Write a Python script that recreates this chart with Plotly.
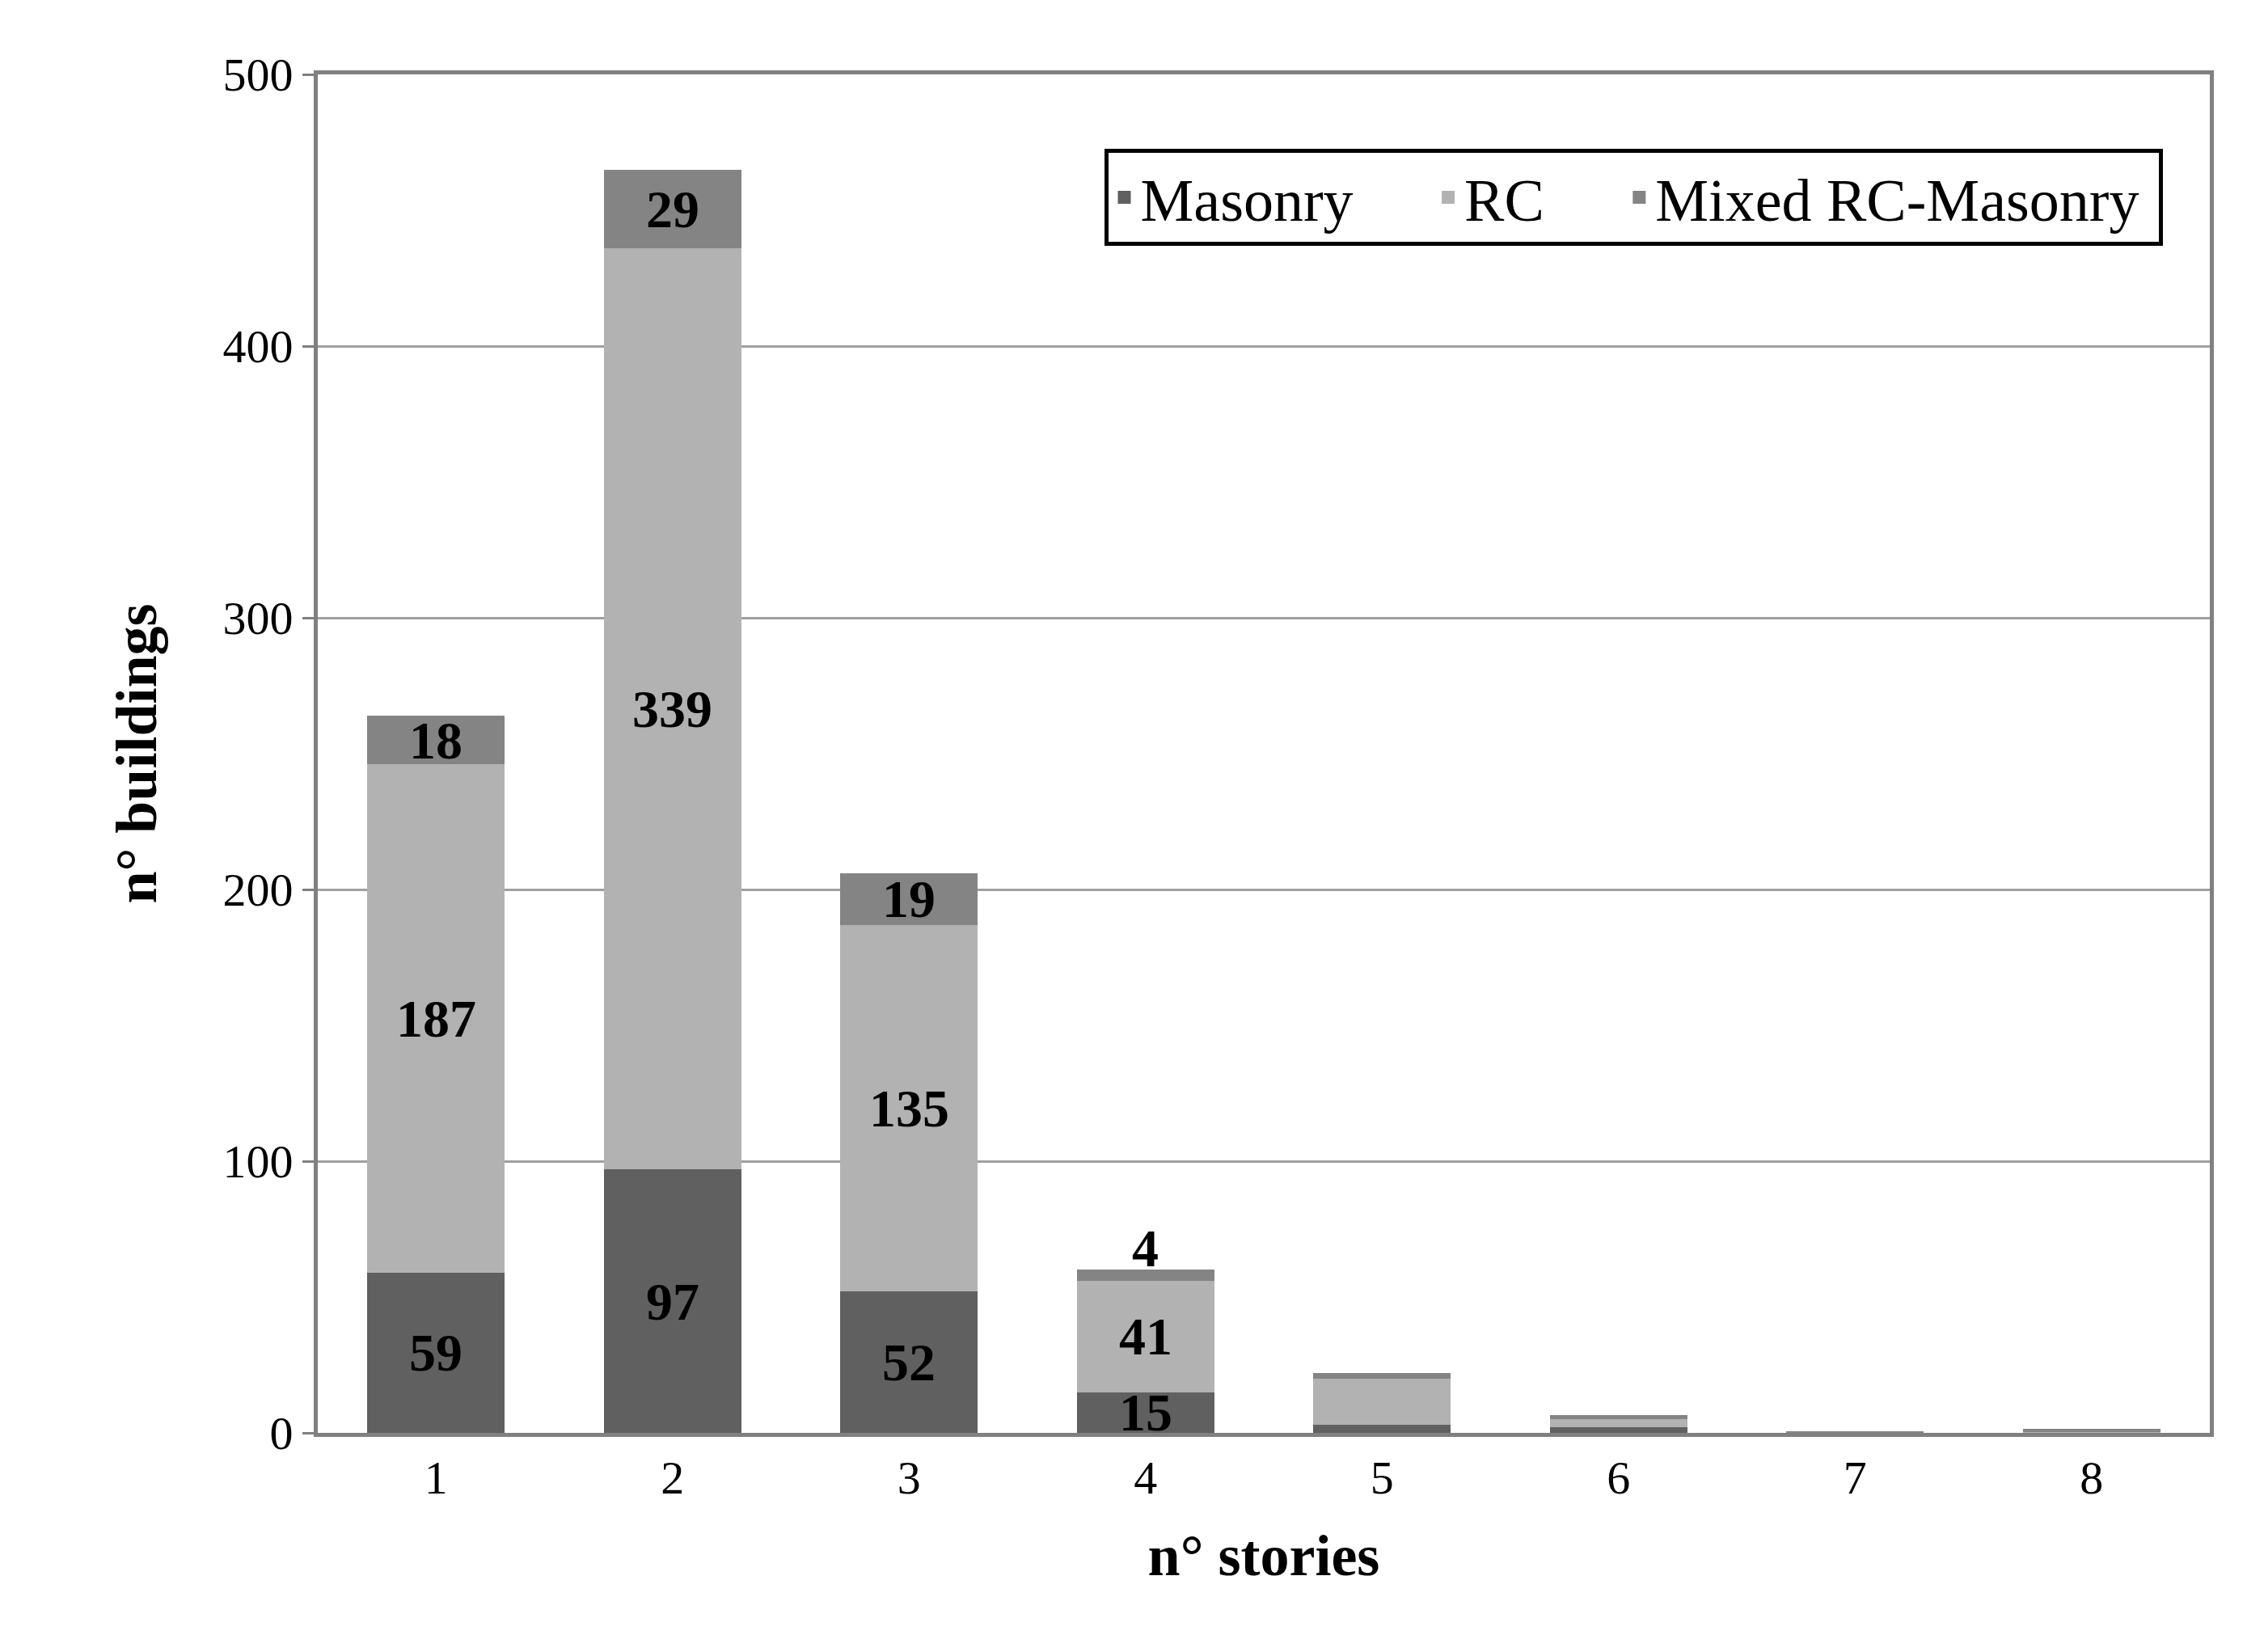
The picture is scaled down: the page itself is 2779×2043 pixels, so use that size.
import plotly.graph_objects as go

stories = ['1', '2', '3', '4', '5', '6', '7', '8']
masonry = [59, 97, 52, 15, 3, 2, 0, 0]
rc = [187, 339, 135, 41, 17, 3, 0, 0.3]
mixed = [18, 29, 19, 4, 2, 1.5, 0.5, 1.3]
shown = 4  # only first four columns carry value labels

COLORS = {'Masonry': '#606060', 'RC': '#b2b2b2', 'Mixed RC-Masonry': '#848484'}
FONT = 'Liberation Serif, Times New Roman, serif'
series = [('Masonry', masonry), ('RC', rc), ('Mixed RC-Masonry', mixed)]

fig = go.Figure()
for name, vals in series:
    fig.add_trace(go.Bar(x=stories, y=vals, name=name, marker_color=COLORS[name],
                         marker_line_width=0, width=0.58, showlegend=False))

# legend entries with larger square swatches
pads = {'Masonry': 'Masonry     ', 'RC': 'RC     ', 'Mixed RC-Masonry': 'Mixed RC-Masonry '}
for name, _ in series:
    fig.add_trace(go.Scatter(x=[None], y=[None], mode='markers', name=pads[name],
                             marker=dict(symbol='square', size=36, color=COLORS[name])))

# value labels
ann = []
for i in range(shown):
    base = 0
    for _, vals in series:
        v = vals[i]
        y = base + v / 2
        if v < 6:
            y = base + v + 8
        ann.append(dict(x=i, y=y, xref='x', yref='y', text=f'<b>{v:g}</b>',
                        showarrow=False,
                        font=dict(size=66, color='black', family=FONT)))
        base += v

fig.update_layout(
    barmode='stack', bargap=0.42,
    width=2779, height=2043,
    paper_bgcolor='white', plot_bgcolor='white',
    font=dict(family=FONT, color='black', size=58),
    margin=dict(l=385, r=54, t=84, b=279),
    annotations=ann,
    legend=dict(orientation='h', x=0.975, xanchor='right', y=0.945, yanchor='top',
                bordercolor='black', borderwidth=5, font=dict(size=74),
                traceorder='normal', itemwidth=30),
    xaxis=dict(title=dict(text='<b>n° stories</b>', font=dict(size=72), standoff=40),
               showline=True, linecolor='#808080', linewidth=5, mirror=True,
               ticks='', tickfont=dict(size=58)),
    yaxis=dict(title=dict(text='<b>n° buildings</b>', font=dict(size=72), standoff=60),
               range=[0, 500], dtick=100, showline=True, linecolor='#808080',
               linewidth=5, mirror=True, gridcolor='#a0a0a0', gridwidth=3,
               ticks='outside', ticklen=14, tickcolor='#808080', tickwidth=3,
               tickfont=dict(size=58)),
)

fig.write_html('out.html')
